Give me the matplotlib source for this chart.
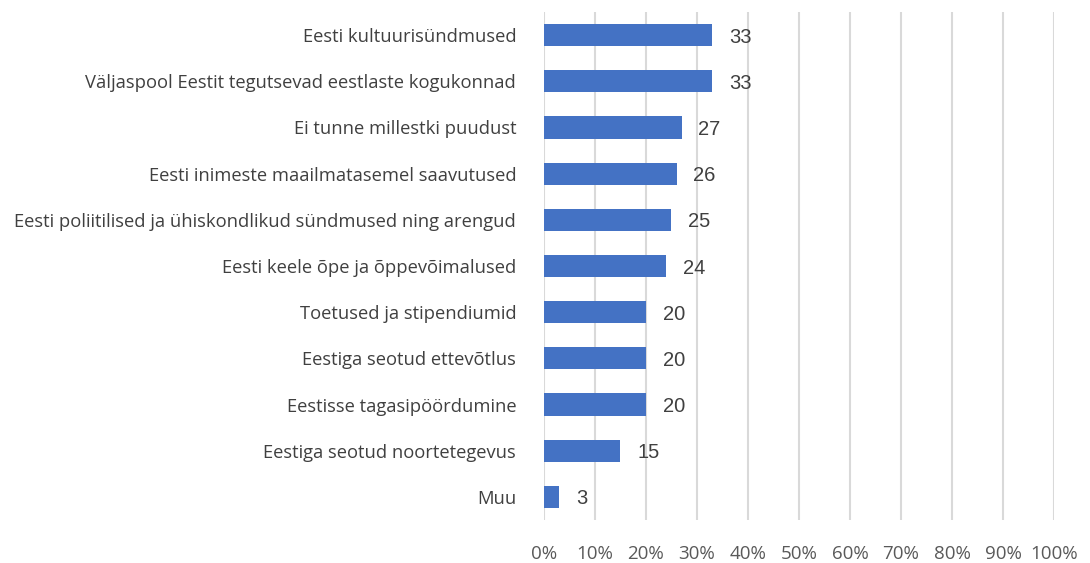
import matplotlib
matplotlib.use("Agg")
import matplotlib.pyplot as plt
from matplotlib.ticker import FuncFormatter

kategooriad = [
    "Eesti kultuurisündmused",
    "Väljaspool Eestit tegutsevad eestlaste kogukonnad",
    "Ei tunne millestki puudust",
    "Eesti inimeste maailmatasemel saavutused",
    "Eesti poliitilised ja ühiskondlikud sündmused ning arengud",
    "Eesti keele õpe ja õppevõimalused",
    "Toetused ja stipendiumid",
    "Eestiga seotud ettevõtlus",
    "Eestisse tagasipöördumine",
    "Eestiga seotud noortetegevus",
    "Muu",
]
vaartused = [33, 33, 27, 26, 25, 24, 20, 20, 20, 15, 3]
x_tikid = list(range(0, 101, 10))

plt.rcParams['font.family'] = ['Open Sans', 'DejaVu Sans']

fig = plt.figure(figsize=(10.9, 5.63), dpi=100)
ax = fig.add_axes([0.499, 0.0764, 0.468, 0.9023])

pos = list(range(len(kategooriad)))
ax.barh(pos, vaartused, height=0.48, color="#4472C4", zorder=3)

# andmesildid
for p, v in zip(pos, vaartused):
    ax.annotate(str(v), (v, p), xytext=(12, -1.5), textcoords="offset points",
                va="center", ha="left", fontsize=14.5, color="#404040",
                family=['Liberation Sans', 'DejaVu Sans'])

ax.set_xlim(0, 100)
ax.set_ylim(len(kategooriad) - 0.5, -0.5)
ax.set_xticks(x_tikid)
ax.xaxis.set_major_formatter(FuncFormatter(lambda x, _: f"{int(x)}%"))
ax.set_yticks(pos)
ax.set_yticklabels(kategooriad)

ax.grid(axis="x", color="#d9d9d9", linewidth=1.5, zorder=0)
for s in ["top", "right", "bottom", "left"]:
    ax.spines[s].set_visible(False)
ax.tick_params(axis="y", length=0, pad=20, labelsize=13.2, labelcolor="#404040")
ax.tick_params(axis="x", length=0, pad=18, labelsize=13.5, labelcolor="#595959")

fig.savefig("out.png", dpi=100)
